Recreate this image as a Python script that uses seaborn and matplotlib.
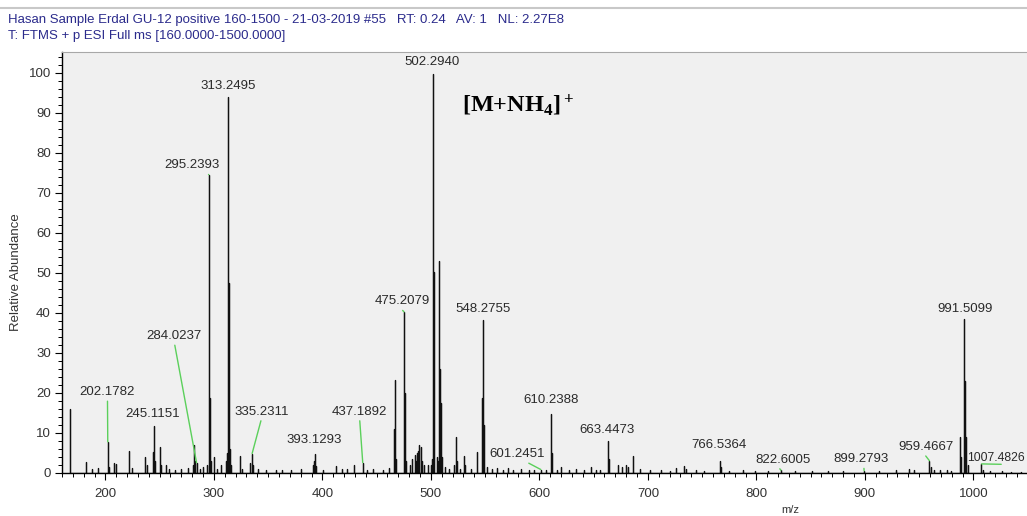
import numpy as np
import pandas as pd
import matplotlib.pyplot as plt
from matplotlib.lines import Line2D
from matplotlib.ticker import MultipleLocator
import seaborn as sns

# --- Stick spectrum (m/z, relative abundance %) ---
peak_mz = [167.0, 182.1, 188.0, 193.1, 202.18, 203.2, 208.3, 210.1, 222.1, 224.1,
           236.7, 238.1, 244.2, 245.12, 246.1, 250.1, 251.1, 255.4, 258.2, 264.0,
           270.0, 276.0, 281.1, 282.0, 283.0, 284.02, 287.0, 290.0, 293.2, 295.24,
           296.24, 297.2, 300.1, 303.0, 307.0, 311.2, 312.2, 313.25, 314.25, 315.25,
           316.0, 323.7, 326.0, 333.2, 335.23, 336.2, 341.0, 348.0, 357.0, 363.0,
           371.0, 380.0, 391.1, 392.1, 393.13, 394.1, 401.0, 413.0, 418.0, 423.0,
           429.2, 437.19, 441.0, 447.0, 456.0, 461.0, 466.2, 467.2, 468.2, 475.21,
           476.21, 477.2, 481.0, 483.0, 485.3, 486.0, 487.0, 488.0, 489.3, 490.5,
           491.0, 492.0, 494.0, 497.0, 500.0, 501.3, 502.29, 502.8, 503.3, 505.3,
           506.3, 507.3, 508.3, 509.3, 510.3, 513.0, 517.0, 521.0, 523.2, 524.2,
           527.0, 530.6, 531.6, 537.0, 542.8, 547.3, 548.28, 549.28, 552.0, 556.0,
           561.0, 566.0, 571.0, 576.0, 583.0, 590.0, 595.0, 601.25, 606.0, 610.24,
           611.24, 616.0, 620.0, 627.0, 634.0, 641.0, 648.0, 652.0, 656.0, 663.45,
           664.45, 672.8, 676.0, 680.0, 682.0, 686.0, 693.0, 702.0, 712.0, 720.0,
           726.0, 733.0, 735.0, 744.0, 752.0, 766.54, 767.5, 775.0, 788.0, 799.0,
           811.0, 822.6, 836.0, 851.0, 866.0, 880.0, 899.28, 913.0, 929.0, 941.0,
           945.0, 959.47, 960.5, 964.0, 969.0, 976.0, 979.0, 987.5, 988.5, 991.51,
           992.51, 993.5, 995.0, 1007.48, 1009.0, 1015.0, 1026.0, 1035.0, 1044.0]
peak_abund = [15.9, 2.8, 1.0, 1.2, 7.7, 1.5, 2.5, 2.2, 5.5, 1.2,
              3.9, 2.0, 5.2, 11.7, 3.0, 6.5, 2.0, 2.0, 1.0, 0.8,
              1.0, 1.2, 2.0, 7.0, 3.0, 2.5, 1.0, 1.5, 2.0, 74.5,
              18.7, 3.0, 4.0, 1.0, 2.0, 3.0, 5.0, 94.0, 47.4, 6.0,
              2.0, 4.3, 1.0, 2.5, 4.8, 2.0, 1.0, 0.7, 0.8, 0.7,
              0.8, 1.0, 2.0, 3.0, 4.8, 1.8, 0.8, 1.8, 0.9, 1.0,
              2.0, 2.5, 0.8, 1.0, 0.8, 1.2, 11.0, 23.3, 3.5, 40.2,
              20.0, 3.0, 2.0, 3.5, 4.5, 3.0, 5.0, 5.5, 7.0, 6.5,
              4.0, 3.0, 2.0, 2.0, 2.0, 3.5, 99.8, 30.5, 50.2, 4.0,
              3.0, 53.0, 26.0, 17.5, 4.0, 1.5, 1.0, 2.0, 9.0, 3.0,
              1.0, 4.3, 2.0, 1.0, 5.3, 18.6, 38.3, 12.0, 1.5, 1.0,
              1.2, 0.8, 1.3, 0.8, 0.9, 0.7, 0.8, 0.8, 0.7, 14.7,
              5.0, 0.8, 1.5, 0.8, 1.0, 0.8, 1.5, 0.8, 0.6, 7.9,
              3.5, 2.0, 1.5, 2.0, 1.5, 4.2, 1.0, 0.8, 0.6, 0.5,
              1.2, 1.6, 1.0, 0.6, 0.5, 3.0, 1.5, 0.5, 0.7, 0.5,
              0.4, 0.6, 0.4, 0.5, 0.4, 0.5, 0.5, 0.5, 0.6, 1.0,
              0.6, 3.0, 1.5, 0.8, 0.6, 0.8, 0.5, 9.0, 4.0, 38.4,
              23.0, 9.0, 2.0, 2.2, 0.6, 0.4, 0.4, 0.3, 0.3]

# --- Peak labels ---
label_mz = [202.18, 245.12, 284.02, 295.24, 313.25, 335.23, 393.13, 437.19, 475.21, 502.29,
            548.28, 601.25, 610.24, 663.45, 766.54, 822.6, 899.28, 959.47, 991.51, 1007.48]
label_text = ['202.1782', '245.1151', '284.0237', '295.2393', '313.2495', '335.2311',
              '393.1293', '437.1892', '475.2079', '502.2940', '548.2755', '601.2451',
              '610.2388', '663.4473', '766.5364', '822.6005', '899.2793', '959.4667',
              '991.5099', '1007.4826']

# label anchor (layout), horizontal alignment and leader-line start on the text box
label_pos = [(201.9, 20.2), (243.6, 14.6), (263.2, 34.2), (279.8, 76.9), (313.0, 96.7),
             (344.3, 15.3), (392.0, 8.3), (434.2, 15.3), (473.4, 42.9), (501.5, 102.8),
             (548.0, 40.9), (579.4, 4.7), (610.7, 18.2), (662.0, 10.8), (765.5, 6.9),
             (824.5, 3.3), (896.4, 3.4), (956.3, 6.5), (992.2, 40.9), (993.8, 3.6)]
label_size = [9.5] * 19 + [8.8]
label_ha = ['center'] * 19 + ['left']
leader_rel = [(0.5, 0.05), None, (0.5, 0.1), (0.75, 0.1), None,
              (0.5, 0.05), None, (0.5, 0.05), (0.45, 0.05), None,
              None, (0.6, 0.0), None, None, None,
              (0.4, 0.0), (0.55, 0.0), (0.45, 0.0), None, (0.6, 0.0)]

header_1 = 'Hasan Sample Erdal GU-12 positive 160-1500 - 21-03-2019 #55   RT: 0.24   AV: 1   NL: 2.27E8'
header_2 = 'T: FTMS + p ESI Full ms [160.0000-1500.0000]'

# --- build stick trace for seaborn (baseline -> top -> baseline) ---
xs, ys = [], []
for m, a in zip(peak_mz, peak_abund):
    xs += [m, m, m]
    ys += [0.0, a, 0.0]
spec = pd.DataFrame({'mz': xs, 'abund': ys})

sns.set_style('ticks')
plt.rcParams['font.family'] = ['Liberation Sans', 'DejaVu Sans']
plt.rcParams['mathtext.default'] = 'regular'

fig = plt.figure(figsize=(10.27, 5.16), dpi=100)
ax = fig.add_axes([62 / 1027, 43.3 / 516, 967.8 / 1027, 420.7 / 516])
ax.set_facecolor('#F0F0F0')

sns.lineplot(data=spec, x='mz', y='abund', sort=False, estimator=None,
             color='#111111', linewidth=0.9, ax=ax)

ax.set_xlim(160, 1052)
ax.set_ylim(0, 105.2)

ax.xaxis.set_major_locator(MultipleLocator(100))
ax.xaxis.set_minor_locator(MultipleLocator(10))
ax.yaxis.set_major_locator(MultipleLocator(10))
ax.yaxis.set_minor_locator(MultipleLocator(2))
ax.tick_params(which='major', direction='out', length=5, width=0.8, color='black',
               labelsize=9.5, labelcolor='#333333')
ax.tick_params(which='minor', direction='out', length=3, width=0.7, color='black')
ax.tick_params(axis='x', which='major', pad=6)
ax.tick_params(axis='y', which='major', pad=3)

for side in ['left', 'bottom']:
    ax.spines[side].set_color('black')
    ax.spines[side].set_linewidth(1.0)
ax.spines['top'].set_color('#A8A8A8')
ax.spines['right'].set_visible(False)

ax.set_ylabel('Relative Abundance', fontsize=9.5, color='#333333')
ax.yaxis.set_label_coords(-0.041, 0.477)
ax.set_xlabel('m/z', fontsize=8, color='#333333', va='top')
ax.xaxis.set_label_coords(0.752, -0.077)

# peak labels with green leader lines
lookup = dict(zip(peak_mz, peak_abund))
for m, txt, pos, ha, rel, fs in zip(label_mz, label_text, label_pos, label_ha,
                                    leader_rel, label_size):
    if rel is None:
        ax.text(pos[0], pos[1], txt, ha=ha, va='center', fontsize=fs, color='#2A2A2A')
    else:
        ax.annotate(txt, xy=(m, lookup[m]), xytext=pos, ha=ha, va='center',
                    fontsize=fs, color='#2A2A2A',
                    arrowprops=dict(arrowstyle='-', color='#5BD05B', lw=1.0,
                                    relpos=rel, shrinkA=0, shrinkB=0))

ax.text(528.6, 92, '[M+NH$_4$]$^+$', fontsize=17.5, fontweight='bold',
        family=['Liberation Serif', 'DejaVu Serif'], color='black',
        ha='left', va='center')

# scan header in Xcalibur blue
fig.text(8 / 1027, 1 - 22.7 / 516, header_1, fontsize=9.5, color='#2B2B8C', va='baseline')
fig.text(8 / 1027, 1 - 39.5 / 516, header_2, fontsize=9.5, color='#2B2B8C', va='baseline')
fig.add_artist(Line2D([0, 1], [1 - 8 / 516, 1 - 8 / 516], color='#C8C8C8', lw=1.5))

fig.savefig('out.png', dpi=100, facecolor='white')
